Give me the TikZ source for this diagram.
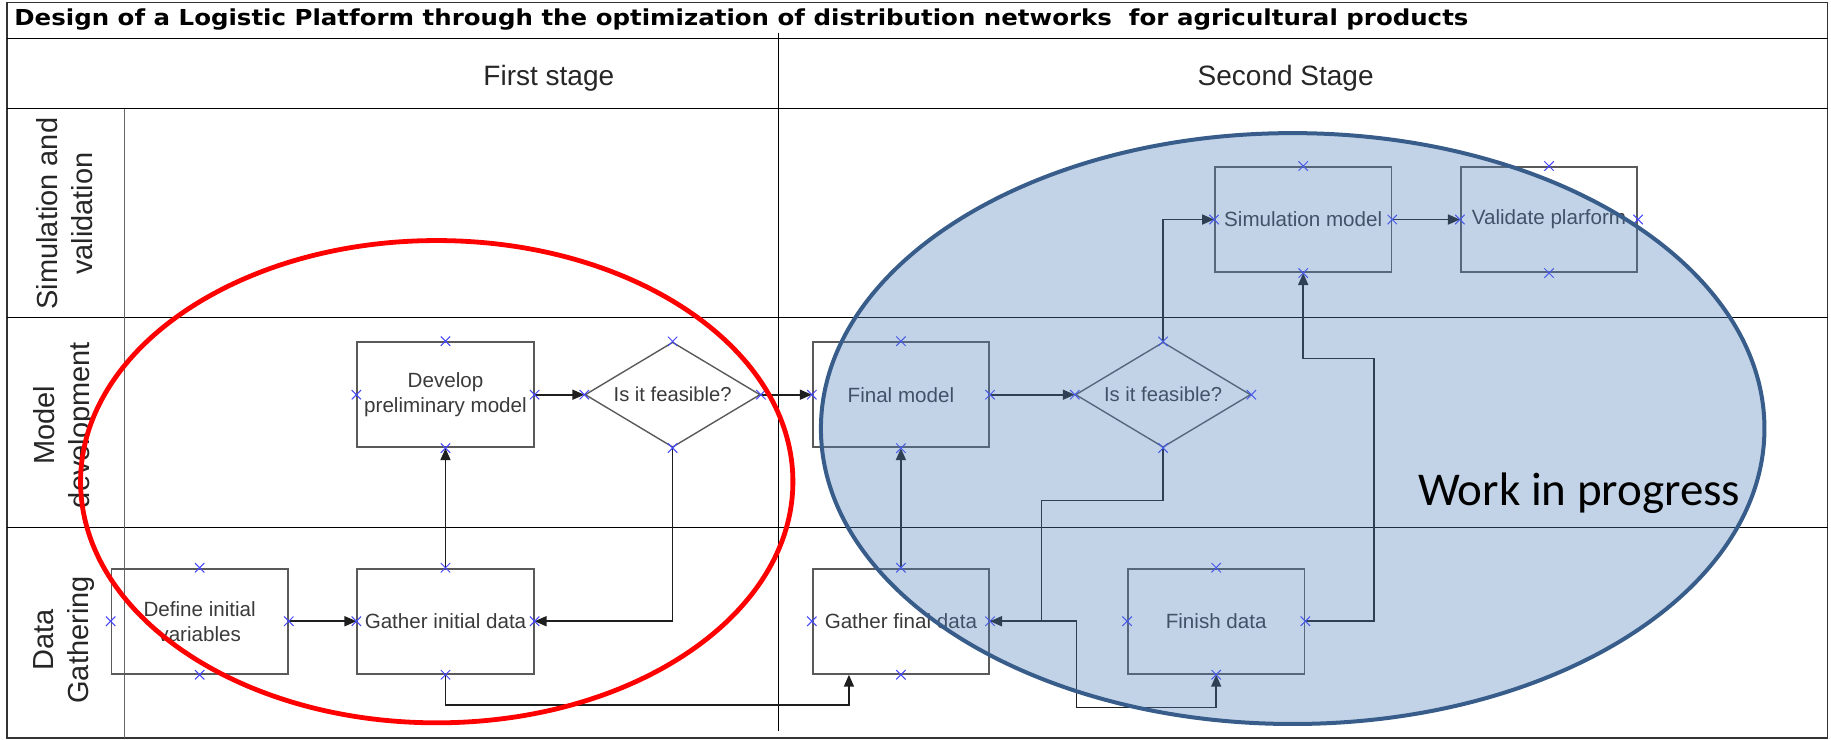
\documentclass[tikz,border=0pt]{standalone}
\usepackage{fontspec}
\setmainfont{Liberation Sans}
\newfontfamily\titlefont{DejaVu Sans}
\newfontfamily\calfont{Carlito}
\usetikzlibrary{shapes.geometric,shapes.misc,arrows.meta,calc}
\definecolor{boxgray}{HTML}{5A5A5A}
\definecolor{linegray}{HTML}{1E1E1E}
\definecolor{txtgray}{HTML}{3A3A3A}
\definecolor{xblue}{HTML}{4646FF}
\definecolor{wipfill}{HTML}{4F81BD}
\definecolor{wipdraw}{HTML}{385D8A}
\begin{document}
\begin{tikzpicture}[x=0.5839pt,y=-0.5839pt,
  box/.style={draw=boxgray, line width=0.9pt, minimum width=88.2pt, minimum height=52.6pt, inner sep=1pt, align=center, font=\fontsize{10.3}{12.6}\selectfont, text=txtgray},
  dia/.style={diamond, draw=boxgray, line width=0.7pt, minimum width=87.6pt, minimum height=52.6pt, inner sep=0pt},
  dtext/.style={font=\fontsize{10.1}{12.6}\selectfont, text=txtgray},
  conn/.style={draw=linegray, line width=0.85pt},
  arr/.style={conn, -{Triangle[length=6pt,width=5pt]}},
  xmark/.style={cross out, draw=xblue, line width=0.5pt, minimum size=4.2pt, inner sep=0pt},
  lane/.style={draw=black, line width=0.6pt},
  lanelabel/.style={rotate=90, align=center, font=\fontsize{14.5}{17.5}\selectfont, text=black!85},
  stagelabel/.style={font=\fontsize{14}{16}\selectfont, text=black!85}
]
\useasboundingbox (0,0) rectangle (1568,633);
% frame and lanes
\draw[draw=black!80, line width=0.8pt] (6,2) rectangle (1565,632);
\draw[lane] (6,33) -- (1565,33);
\draw[lane] (6,93) -- (1565,93);
\draw[lane] (6,272) -- (1565,272);
\draw[lane] (6,452) -- (1565,452);
\draw[draw=black!60, line width=0.9pt] (106.6,93) -- (106.6,632);
\draw[lane] (667,28) -- (667,626);
% texts
\node[anchor=west, inner sep=0pt, font=\titlefont\bfseries\fontsize{11}{12}\selectfont] (title) at (12,17)
  {\resizebox{727pt}{\height}{Design of a Logistic Platform through the optimization of distribution networks\ \ for agricultural products}};
\node[stagelabel] (s1) at (470,67) {First stage};
\node[stagelabel] (s2) at (1101,67) {Second Stage};
\node[lanelabel] (l1) at (55,183) {Simulation and\\validation};
\node[lanelabel] (l2) at (55,364) {Model\\development};
\node[lanelabel] (l3) at (55,548) {Data\\Gathering};
% nodes
\node[box] (def) at (171,532) {Define initial\\variables};
\node[box] (gid) at (381.5,532) {Gather initial data};
\node[box] (dev) at (381.5,338) {Develop\\preliminary model};
\node[dia, label={[dtext]center:Is it feasible?}] (d1) at (576,338) {};
\node[box] (fm) at (771.5,338) {Final model};
\node[dia, label={[dtext]center:Is it feasible?}] (d2) at (996,338) {};
\node[box] (gfd) at (771.5,532) {Gather final data};
\node[box] (fin) at (1041.5,532) {Finish data};
\node[box] (sim) at (1116,188) {Simulation model};
\node[box] (val) at (1326.5,188) {Validate plarform};
% connectors
\draw[arr] (def.east) -- (gid.west);
\draw[arr] (gid.north) -- (dev.south);
\draw[arr] (dev.east) -- (d1.west);
\draw[arr] (d1.south) |- (gid.east);
\draw[arr] (d1.east) -- (fm.west);
\coordinate (gfdin) at ($(gfd.south)+(-44.5,0)$);
\draw[arr] (gid.south) -- ++(0,26) -| (gfdin);
\draw[arr] (gfd.north) -- (fm.south);
\draw[arr] (fm.east) -- (d2.west);
\draw[arr] (d2.north) |- (sim.west);
\coordinate (jn) at ($(gfd.east)+(44,0)$);
\draw[arr] (d2.south) -- ++(0,45) -| (jn) -- (gfd.east);
\draw[arr] (gfd.east) -- ++(74,0) -- ++(0,74) -| (fin.south);
\draw[arr] (fin.east) -- ++(59,0) -- ++(0,-225) -| (sim.south);
\draw[arr] (sim.east) -- (val.west);
% connection crosses
\foreach \n in {def,gid,dev,d1,fm,d2,gfd,fin,sim,val}
  \foreach \a in {north,south,east,west}
    \node[xmark] (x-\n-\a) at (\n.\a) {};
% highlight ellipses
\draw[red, line width=2.4pt] (374,412.5) ellipse [x radius=305, y radius=206.5];
\draw[draw=wipdraw, line width=2pt, fill=wipfill, fill opacity=0.35] (1107,367) ellipse [x radius=404, y radius=253];
\node[anchor=base west, inner sep=0pt, font=\calfont\fontsize{23.5}{26}\selectfont] (wip) at (1214,432.5) {Work in progress};
\end{tikzpicture}
\end{document}
